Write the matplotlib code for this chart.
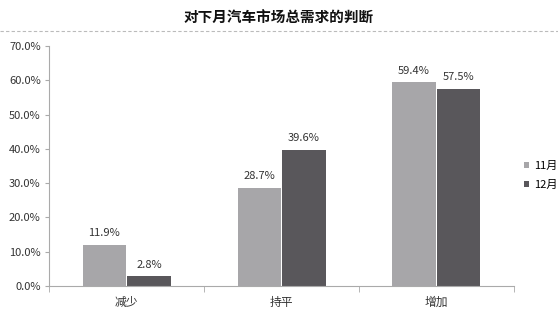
import numpy as np
import matplotlib.pyplot as plt
from matplotlib.lines import Line2D

plt.rcParams['font.family'] = ['Noto Sans CJK SC', 'DejaVu Sans']

# data
categories = ["减少", "持平", "增加"]
series_names = ["11月", "12月"]
nov_values = [11.9, 28.7, 59.4]
dec_values = [2.8, 39.6, 57.5]
y_ticks = [0, 10, 20, 30, 40, 50, 60, 70]

colors = ["#a7a6a9", "#59575b"]

fig = plt.figure(figsize=(5.58, 3.13), dpi=100)
ax = fig.add_axes([0.088, 0.086, 0.833, 0.767])

x = np.arange(len(categories))
w = 0.28
b1 = ax.bar(x - w / 2 - 0.004, nov_values, w, color=colors[0], label=series_names[0])
b2 = ax.bar(x + w / 2 + 0.004, dec_values, w, color=colors[1], label=series_names[1])

for bars, vals in [(b1, nov_values), (b2, dec_values)]:
    for rect, v in zip(bars, vals):
        ax.text(rect.get_x() + rect.get_width() / 2, v + 2.0, f"{v:.1f}%",
                ha="center", va="bottom", fontsize=8, color="#333333")

ax.set_xlim(-0.5, len(categories) - 0.5)
ax.set_ylim(0, 70)
ax.set_yticks(y_ticks)
ax.set_yticklabels([f"{t:.1f}%" for t in y_ticks], fontsize=8, color="#333333")

ax.set_xticks(x)
ax.set_xticklabels(categories, fontsize=8.5, color="#333333")
ax.tick_params(axis="x", length=0, pad=7)
ax.set_xticks(np.arange(len(categories) + 1) - 0.5, minor=True)
ax.tick_params(axis="x", which="minor", length=4, color="#aaaaaa")
ax.tick_params(axis="y", length=3, color="#aaaaaa", pad=3)

for side in ["top", "right"]:
    ax.spines[side].set_visible(False)
for side in ["left", "bottom"]:
    ax.spines[side].set_color("#aaaaaa")

# title and dashed rule
fig.text(0.5, 0.942, "对下月汽车市场总需求的判断", ha="center", va="center",
         fontsize=10.5, fontweight="bold", color="#111111")
fig.add_artist(Line2D([0.0, 1.0], [0.9, 0.9], transform=fig.transFigure,
                      color="#bbbbbb", linestyle=(0, (3, 2)), linewidth=0.8))

ax.legend(loc="center left", bbox_to_anchor=(1.0, 0.46), frameon=False,
          fontsize=8, handlelength=0.5, handleheight=0.5, handletextpad=0.4,
          labelspacing=0.8)

fig.savefig("out.png", dpi=100)
